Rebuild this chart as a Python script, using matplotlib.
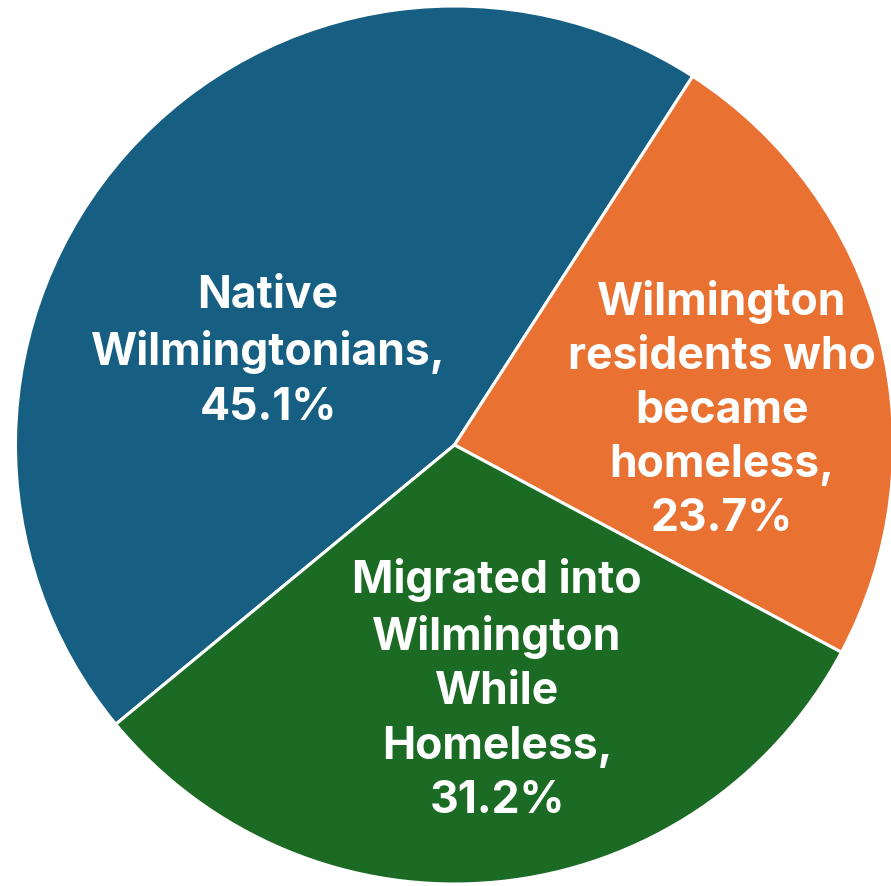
import matplotlib
matplotlib.use("Agg")
import matplotlib.pyplot as plt

categories = ["Native\nWilmingtonians,", "Wilmington\nresidents who\nbecame\nhomeless,", "Migrated into\nWilmington\nWhile\nHomeless,"]
values = [45.1, 23.7, 31.2]
colors = ["#175F82", "#E97132", "#1B6B24"]

W, H = 891, 887
fig = plt.figure(figsize=(W / 100, H / 100), dpi=100)
ax = fig.add_axes([0, 0, 1, 1])

cx, cy, R = 454.5, H - 446, 439
# start blue slice at 230.5 deg clockwise from 12 o'clock
start = 90 - 230.5
wedges, _ = ax.pie(values, colors=colors, startangle=start, counterclock=False,
                   center=(cx, cy), radius=R, frame=True,
                   wedgeprops=dict(edgecolor="white", linewidth=2.2))
ax.set_xlim(0, W)
ax.set_ylim(0, H)
ax.set_aspect("equal")
ax.axis("off")

label_pos = [(268, 352), (722, 410), (497, 690)]
for cat, v, (px, py) in zip(categories, values, label_pos):
    ax.text(px, H - py, f"{cat}\n{v:.1f}%", ha="center", va="center",
            color="white", fontsize=32, fontweight="bold",
            family=["Inter", "Open Sans", "DejaVu Sans"],
            linespacing=1.37)

fig.savefig("out.png", dpi=100)
